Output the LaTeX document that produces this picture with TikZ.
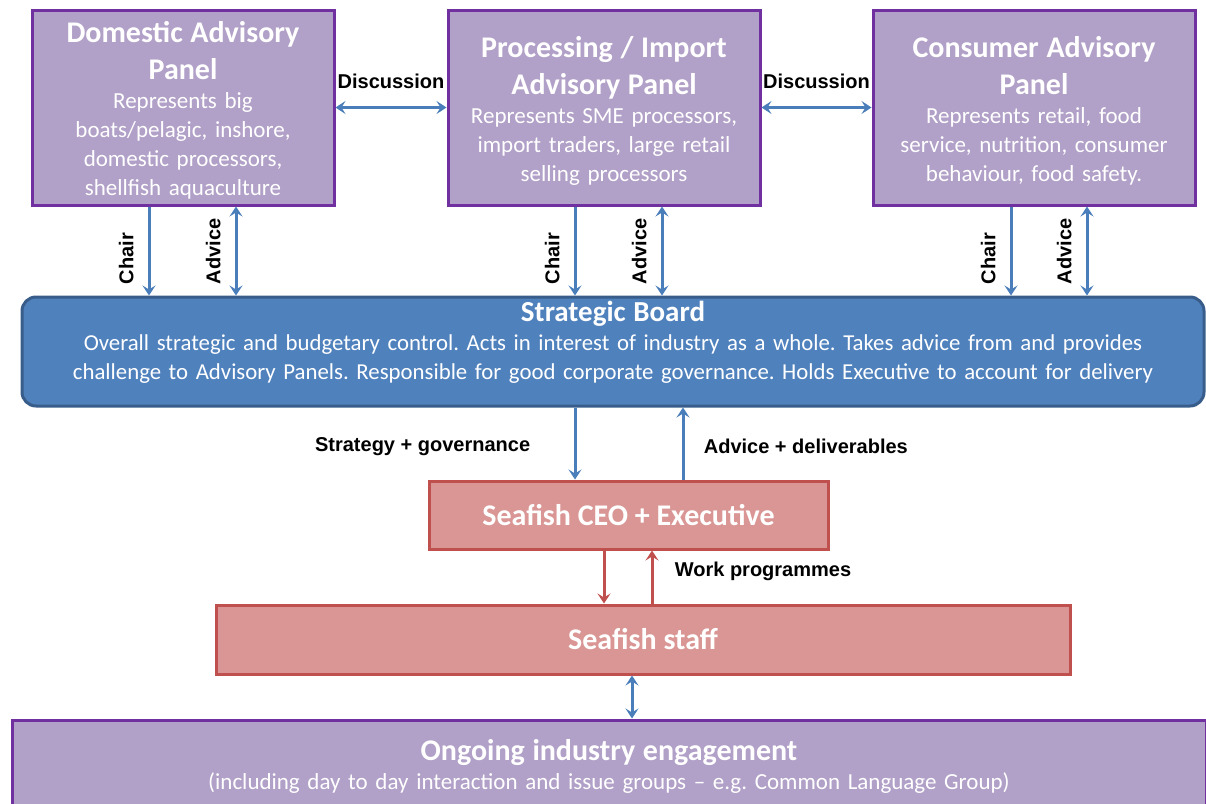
\documentclass[tikz,border=0pt]{standalone}
\usepackage{fontspec}
\setmainfont{Carlito}
\newfontfamily\tagfont{Liberation Sans}
\usetikzlibrary{arrows.meta,positioning,calc}
\definecolor{panelfill}{HTML}{B1A0C7}
\definecolor{paneldraw}{HTML}{7030A0}
\definecolor{boardfill}{HTML}{4F81BD}
\definecolor{boarddraw}{HTML}{385D8A}
\definecolor{linkblue}{HTML}{4A7EBB}
\definecolor{execfill}{HTML}{D99694}
\definecolor{execdraw}{HTML}{C0504D}
\newcommand{\panelhead}[1]{{\fontsize{30}{37}\selectfont\bfseries #1\par}}
\frenchspacing
\tikzset{
  panel/.style={rectangle,draw=paneldraw,fill=panelfill,line width=3pt,text=white,
    align=center,inner sep=4pt,font=\fontsize{23}{29}\selectfont},
  advisory/.style={panel,minimum height=195pt,execute at end node={\par\vspace{-6pt}}},
  board/.style={rectangle,rounded corners=14pt,draw=boarddraw,fill=boardfill,line width=3pt,
    text=white,align=center,inner sep=0pt,font=\fontsize{22.8}{29}\selectfont},
  exec/.style={rectangle,draw=execdraw,fill=execfill,line width=3pt,text=white,
    align=center,font=\fontsize{30}{36}\selectfont\bfseries},
  link/.style={draw=linkblue,line width=3pt,-{Stealth[length=10pt,width=13pt,inset=4pt]}},
  biglink/.style={link,{Stealth[length=10pt,width=13pt,inset=4pt]}-{Stealth[length=10pt,width=13pt,inset=4pt]}},
  redlink/.style={link,draw=execdraw},
  tag/.style={font=\tagfont\bfseries\fontsize{20}{24}\selectfont,text=black},
  sidetag/.style={tag,rotate=90,anchor=south west,inner xsep=10pt,inner ysep=14pt}
}
\begin{document}
\begin{tikzpicture}[x=1pt,y=-1pt]
\useasboundingbox (0,0) rectangle (1206,803);
% advisory panels
\node (dom) [advisory,minimum width=302pt,text width=294pt] at (183,107.5)
  {\panelhead{Domestic Advisory\\Panel}Represents big\\boats/pelagic, inshore,\\domestic processors,\\shellfish aquaculture};
\node (proc) [advisory,minimum width=312pt,text width=304pt] at (604,107.5)
  {\panelhead{Processing / Import\\Advisory Panel}Represents SME processors,\\import traders, large retail\\selling processors};
\node (cons) [advisory,minimum width=322pt,text width=314pt] at (1034,107.5)
  {\panelhead{Consumer Advisory\\Panel}Represents retail, food\\service, nutrition, consumer\\behaviour, food safety.};
%
\node (board) [board,minimum width=1182pt,minimum height=109pt,text width=1176pt] at (613,351.5)
  {{\fontsize{29}{33}\selectfont\bfseries Strategic Board\par}
   Overall strategic and budgetary control. Acts in interest of industry as a whole. Takes advice from and provides\\
   challenge to Advisory Panels. Responsible for good corporate governance. Holds Executive to account for delivery\par
   \vspace{18pt}};
\node (ceo) [exec,minimum width=399pt,minimum height=68pt] at (628.5,515) {Seafish CEO + Executive};
\node (staff) [exec,minimum width=854pt,minimum height=69pt] at (643,639.5) {Seafish staff};
\node (ongoing) [panel,minimum width=1194pt,minimum height=92pt,text width=1186pt] at (609,766)
  {{\fontsize{30}{32}\selectfont\bfseries Ongoing industry engagement\par}
   {\fontsize{23}{30}\selectfont (including day to day interaction and issue groups -- e.g. Common Language Group)}};
%
\draw[biglink] (dom.east) -- node[tag,above=14pt] {Discussion} (proc.west);
\draw[biglink] (proc.east) -- node[tag,above=14pt] {Discussion} (cons.west);
%
\coordinate (domchair) at ([xshift=-34pt]dom.south);
\coordinate (domadv) at ([xshift=53pt]dom.south);
\coordinate (procchair) at ([xshift=-29pt]proc.south);
\coordinate (procadv) at ([xshift=58pt]proc.south);
\coordinate (conschair) at ([xshift=-23pt]cons.south);
\coordinate (consadv) at ([xshift=53pt]cons.south);
\draw[link] (domchair) -- (domchair |- board.north) node[sidetag] {Chair};
\draw[biglink] (domadv) -- (domadv |- board.north) node[sidetag] {Advice};
\draw[link] (procchair) -- (procchair |- board.north) node[sidetag] {Chair};
\draw[biglink] (procadv) -- (procadv |- board.north) node[sidetag] {Advice};
\draw[link] (conschair) -- (conschair |- board.north) node[sidetag] {Chair};
\draw[biglink] (consadv) -- (consadv |- board.north) node[sidetag] {Advice};
%
\coordinate (ceoin) at ([xshift=-53.5pt]ceo.north);
\coordinate (ceoout) at ([xshift=54.5pt]ceo.north);
\draw[link] (ceoin |- board.south) -- node[tag,left=40pt,yshift=-3pt] {Strategy + governance} (ceoin);
\draw[link] (ceoout) -- node[tag,right=16pt,yshift=-3pt] {Advice + deliverables} (ceoout |- board.south);
%
\coordinate (workdown) at ([xshift=-24.5pt]ceo.south);
\coordinate (workup) at ([xshift=23.5pt]ceo.south);
\draw[redlink] (workdown) -- (workdown |- staff.north);
\draw[redlink] (workup |- staff.north) -- node[tag,right=18pt,yshift=6pt] {Work programmes} (workup);
%
\coordinate (engage) at ([xshift=-11pt]staff.south);
\draw[biglink] (engage) -- (engage |- ongoing.north);
\end{tikzpicture}
\end{document}
